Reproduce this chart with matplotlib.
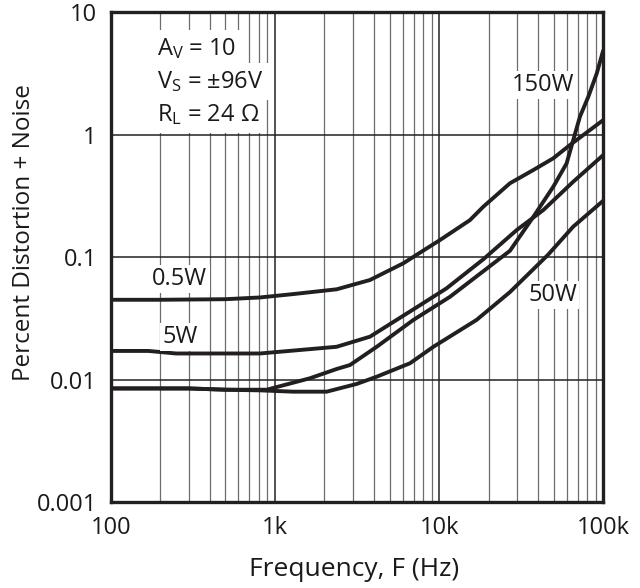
import matplotlib
matplotlib.use("Agg")
import matplotlib.pyplot as plt
from matplotlib.ticker import FixedLocator, LogLocator, NullFormatter, NullLocator

plt.rcParams['font.family'] = ['Open Sans', 'DejaVu Sans']
plt.rcParams['mathtext.fontset'] = 'custom'
plt.rcParams['mathtext.rm'] = 'Open Sans'
plt.rcParams['mathtext.it'] = 'Open Sans:italic'

# ---- data ----
freq_05 = [100, 200, 500, 811, 1295, 2377, 3795, 6050, 8390, 10100, 15400, 18600, 27000, 37500, 49600, 62700, 100000]
thd_05 = [0.045, 0.045, 0.0455, 0.047, 0.0501, 0.0548, 0.0653, 0.0893, 0.118, 0.138, 0.201, 0.259, 0.402, 0.516, 0.643, 0.826, 1.32]

freq_5 = [100, 170, 250, 500, 811, 2377, 3795, 7310, 11100, 18600, 29700, 43100, 65600, 100000]
thd_5 = [0.0172, 0.0172, 0.0164, 0.0164, 0.0164, 0.0186, 0.0225, 0.0391, 0.0558, 0.0964, 0.167, 0.243, 0.414, 0.684]

freq_150 = [100, 300, 500, 891, 1637, 2377, 2865, 4170, 6970, 11650, 27000, 37500, 49600, 59800, 65600, 72100, 81100, 91300, 100000]
thd_150 = [0.0085, 0.0085, 0.0083, 0.0083, 0.0103, 0.01225, 0.0132, 0.0186, 0.0308, 0.0476, 0.113, 0.214, 0.377, 0.585, 0.906, 1.41, 2.05, 3.18, 4.92]

freq_50 = [100, 300, 500, 811, 1295, 2066, 3148, 4170, 6650, 9230, 16900, 27000, 45800, 65600, 100000]
thd_50 = [0.0085, 0.0085, 0.0083, 0.0082, 0.0080, 0.0080, 0.00925, 0.0106, 0.01365, 0.0186, 0.0308, 0.052, 0.104, 0.178, 0.29]

x_ticks = [100, 1000, 10000, 100000]
x_tick_labels = ['100', '1k', '10k', '100k']
y_ticks = [0.001, 0.01, 0.1, 1, 10]
y_tick_labels = ['0.001', '0.01', '0.1', '1', '10']

curve_labels = ['0.5W', '5W', '50W', '150W']
label_freq = [264, 264, 49200, 42700]
label_thd = [0.0665, 0.0224, 0.0489, 2.54]

cond_lines = ['A$_\\mathregular{V}$ = 10',
              'V$_\\mathregular{S}$ = \u00b196V',
              'R$_\\mathregular{L}$ = 24 \u03a9']

ink = '#231f20'
W, H = 640, 588

fig = plt.figure(figsize=(6.4, 5.88), dpi=100)
ax = fig.add_axes([110.7 / W, 1 - 502.3 / H, 492.6 / W, 490 / H])
ax.set_xscale('log')
ax.set_yscale('log')
ax.set_xlim(100, 100000)
ax.set_ylim(0.001, 10)

ax.xaxis.set_major_locator(FixedLocator(x_ticks))
ax.set_xticklabels(x_tick_labels)
ax.xaxis.set_minor_locator(LogLocator(base=10, subs=range(2, 10)))
ax.xaxis.set_minor_formatter(NullFormatter())
ax.yaxis.set_major_locator(FixedLocator(y_ticks))
ax.set_yticklabels(y_tick_labels)
ax.yaxis.set_minor_locator(NullLocator())

ax.grid(which='major', color='#222222', lw=1.1)
ax.grid(which='minor', axis='x', color='#6d6d6d', lw=0.9)
ax.set_axisbelow(True)

ax.tick_params(which='both', length=0, labelsize=17, colors='#1a1a1a')
ax.tick_params(axis='x', pad=10)
ax.tick_params(axis='y', pad=10)

for s in ax.spines.values():
    s.set_linewidth(2.4)
    s.set_color(ink)

for f, t in [(freq_05, thd_05), (freq_5, thd_5), (freq_150, thd_150), (freq_50, thd_50)]:
    ax.plot(f, t, color=ink, lw=2.8, solid_joinstyle='round', solid_capstyle='butt', zorder=3)

for lab, fx, ty in zip(curve_labels, label_freq, label_thd):
    ax.text(fx, ty, lab, fontsize=17, ha='center', va='center', color='#1a1a1a',
            bbox=dict(facecolor='white', edgecolor='none', pad=1.5), zorder=4)

for i, line in enumerate(cond_lines):
    y_px = 55 + 33 * i
    ax.text(0.094, 1 - (y_px - 12.3) / 490, line, transform=ax.transAxes, fontsize=17,
            ha='left', va='baseline', color='#1a1a1a',
            bbox=dict(facecolor='white', edgecolor='none', pad=4), zorder=4)

fig.text(353.8 / W, 1 - 576 / H, 'Frequency, F (Hz)', fontsize=19, ha='center',
         va='baseline', color='#1a1a1a')
fig.text(24 / W, 1 - 233 / H, 'Percent Distortion + Noise', fontsize=17.5, rotation=90,
         ha='center', va='center', color='#1a1a1a')

fig.savefig('out.png', dpi=100, facecolor='white')
